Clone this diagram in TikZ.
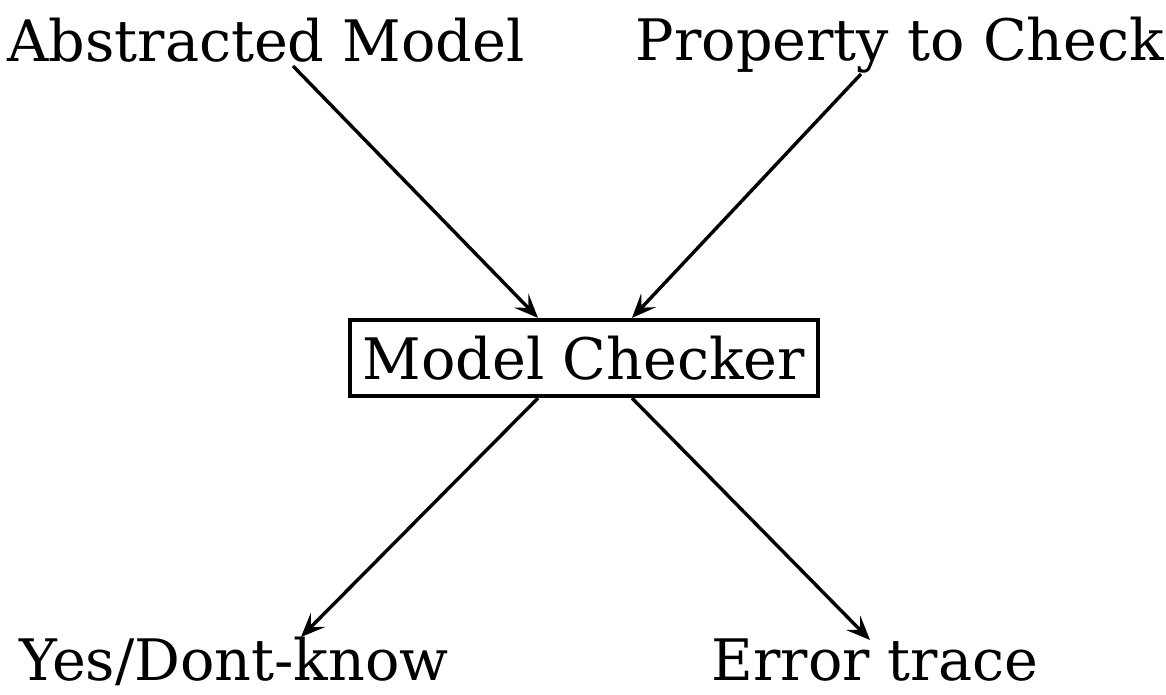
\documentclass[tikz,border=0pt]{standalone}
\usepackage{fontspec}
\setmainfont{DejaVu Serif}
\usetikzlibrary{arrows.meta}
\tikzset{
  lbl/.style={anchor=base, inner sep=0pt, font=\fontsize{28.6}{34}\selectfont},
  checkerbox/.style={draw, line width=2.1pt, minimum width=234pt, minimum height=38pt,
    inner sep=0pt, font=\fontsize{28.6}{34}\selectfont},
  flow/.style={line width=1.7pt, -{Stealth[length=12pt,width=10pt,inset=5pt]}}
}
\begin{document}
\begin{tikzpicture}[x=0.5pt,y=-0.5pt]
  \useasboundingbox (0,0) rectangle (1166,695);
  % labels
  \node[lbl] (am) at (266,62) {Abstracted Model};
  \node[lbl] (pc) at (900,61) {Property to Check};
  \node[lbl] (yd) at (234,680) {Yes/Dont-know};
  \node[lbl] (et) at (875,680) {Error trace};
  % the checker
  \node[checkerbox] (mc) at (584,358) {Model Checker};
  % connector ends
  \coordinate (amout) at (293,66);
  \coordinate (pcout) at (861,74);
  \coordinate (ydin) at (301,637);
  \coordinate (etin) at (870,640);
  \draw[flow] (amout) -- (mc.north west -| 538,0);
  \draw[flow] (pcout) -- (mc.north west -| 632,0);
  \draw[flow] (mc.south west -| 538,0) -- (ydin);
  \draw[flow] (mc.south west -| 632,0) -- (etin);
\end{tikzpicture}
\end{document}
